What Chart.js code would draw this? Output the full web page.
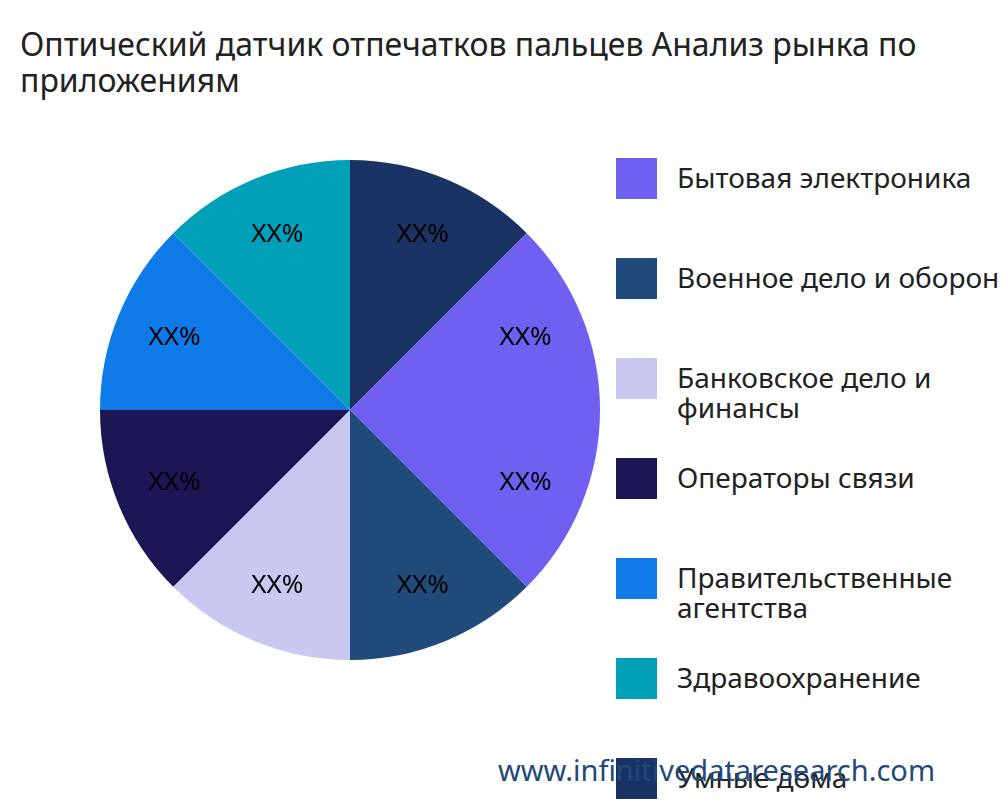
<!DOCTYPE html>
<html><head><meta charset="utf-8">
<script src="https://cdn.jsdelivr.net/npm/chart.js@4"></script>
<style>
body{margin:0;width:1000px;height:800px;overflow:hidden;background:#fff;font-family:"Noto Sans",sans-serif;position:relative}
#title{position:absolute;left:20px;top:26px;font-size:32px;line-height:36px;color:#222;white-space:nowrap}
#wrap{position:absolute;left:90px;top:150px;width:520px;height:520px}
#legend{position:absolute;left:616px;top:158px;width:400px}
.item{position:absolute;left:0;display:flex;align-items:flex-start;white-space:nowrap}
.sw{width:41px;height:41px;margin-right:20px;flex:none}
.lt{font-size:28px;line-height:30px;color:#222;margin-top:4px}
#wm{position:absolute;left:498px;top:750px;font-size:29px;color:#1f4a7a}
</style></head><body>
<div id="title">Оптический датчик отпечатков пальцев Анализ рынка по<br>приложениям</div>
<div id="wrap"><canvas id="c"></canvas></div>
<div id="legend"></div>
<div id="wm">www.infinitivedataresearch.com</div>
<script>
const categories = ['Бытовая электроника','Военное дело и оборона','Банковское дело и финансы','Операторы связи','Правительственные агентства','Здравоохранение','Умные дома','Другие'];
const legendText = ['Бытовая электроника','Военное дело и оборона','Банковское дело и<br>финансы','Операторы связи','Правительственные<br>агентства','Здравоохранение','Умные дома','Другие'];
const values = [1,1,1,1,1,1,1,1];
const sliceLabels = ['XX%','XX%','XX%','XX%','XX%','XX%','XX%','XX%'];
const colors = ['#7060f2','#1f4a7a','#c8c8f0','#1c1654','#0e7be8','#00a0b8','#1a3264','#7060f2'];
const legendTops = [0,100,200,300,400,500,600,700];

const lg = document.getElementById('legend');
legendText.forEach((t,i)=>{
  const d=document.createElement('div');d.className='item';d.style.top=legendTops[i]+'px';
  d.innerHTML='<div class="sw" style="background:'+colors[i]+'"></div><div class="lt">'+t+'</div>';
  lg.appendChild(d);
});

const labelPlugin = {
  id:'sliceLabels',
  afterDatasetsDraw(chart){
    const ctx=chart.ctx;
    chart.getDatasetMeta(0).data.forEach((arc,i)=>{
      const mid=(arc.startAngle+arc.endAngle)/2, r=arc.outerRadius*0.76;
      ctx.save();ctx.fillStyle='#000';ctx.font='26px "Noto Sans"';
      ctx.textAlign='center';ctx.textBaseline='middle';
      ctx.fillText(sliceLabels[i],arc.x+Math.cos(mid)*r,arc.y+Math.sin(mid)*r);
      ctx.restore();
    });
  }
};
new Chart(document.getElementById('c'),{
  type:'pie',
  data:{labels:categories,datasets:[{data:values,backgroundColor:colors,borderWidth:0}]},
  options:{responsive:true,maintainAspectRatio:false,animation:false,rotation:90,
    layout:{padding:10},
    plugins:{legend:{display:false},tooltip:{enabled:false}}},
  plugins:[labelPlugin]
});
</script></body></html>
